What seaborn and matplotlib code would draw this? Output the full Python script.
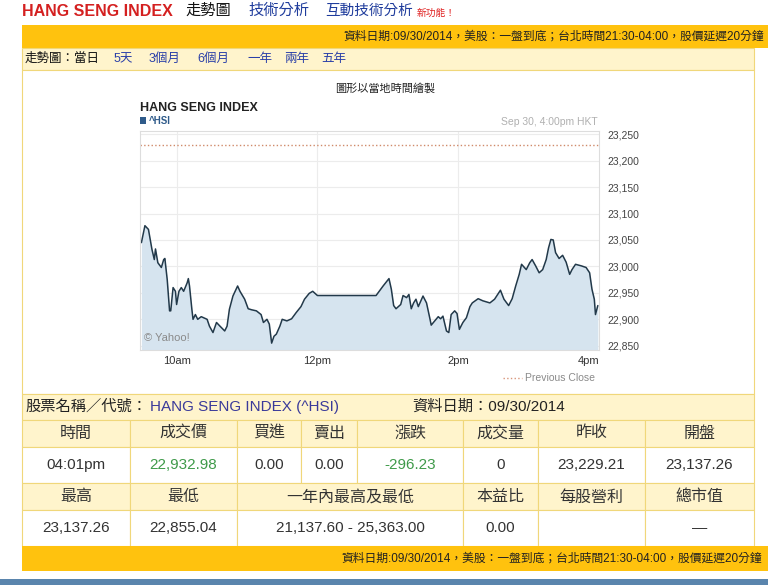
import matplotlib
matplotlib.use("Agg")
import numpy as np
import pandas as pd
import seaborn as sns
import matplotlib.pyplot as plt
from matplotlib.patches import Rectangle
from matplotlib.ticker import FuncFormatter

# ---- data ----
times = ["9:30", "9:33", "9:36", "9:39", "9:41", "9:42", "9:44", "9:47", "9:49", "9:50",
         "9:52", "9:54", "9:55", "9:57", "9:59", "10:00", "10:02", "10:04", "10:06", "10:09",
         "10:10", "10:11", "10:13", "10:14", "10:16", "10:18", "10:21", "10:26", "10:28", "10:31",
         "10:34", "10:37", "10:41", "10:43", "10:45", "10:48", "10:52", "10:54", "10:58", "11:01",
         "11:04", "11:08", "11:12", "11:14", "11:17", "11:19", "11:21", "11:23", "11:25", "11:28",
         "11:30", "11:34", "11:38", "11:42", "11:46", "11:49", "11:53", "11:56", "11:59", "12:00",
         "12:50", "12:56", "13:01", "13:03", "13:05", "13:07", "13:11", "13:13", "13:16", "13:18",
         "13:20", "13:22", "13:24", "13:26", "13:30", "13:33", "13:36", "13:37", "13:40", "13:43",
         "13:45", "13:47", "13:50", "13:52", "13:54", "13:57", "13:59", "14:01", "14:04", "14:07",
         "14:10", "14:12", "14:17", "14:21", "14:27", "14:31", "14:36", "14:39", "14:43", "14:46",
         "14:49", "14:52", "14:54", "14:58", "15:01", "15:03", "15:06", "15:09", "15:12", "15:15",
         "15:17", "15:19", "15:21", "15:23", "15:26", "15:29", "15:32", "15:35", "15:37", "15:40",
         "15:45", "15:49", "15:52", "15:54", "15:56", "15:57", "15:59"]
index_values = [23045, 23077, 23070, 23032, 23013, 23033, 23007, 22998, 23013, 23015,
                22975, 22916, 22916, 22960, 22953, 22928, 22953, 22960, 22953, 22969,
                22977, 22963, 22919, 22900, 22909, 22900, 22905, 22900, 22887, 22875,
                22894, 22887, 22878, 22887, 22919, 22944, 22963, 22953, 22938, 22920,
                22918, 22916, 22909, 22894, 22900, 22891, 22855, 22868, 22872, 22887,
                22900, 22897, 22901, 22913, 22924, 22938, 22949, 22953, 22947, 22945,
                22945, 22963, 22977, 22957, 22926, 22920, 22928, 22945, 22941, 22947,
                22920, 22931, 22938, 22924, 22944, 22931, 22900, 22889, 22897, 22905,
                22901, 22906, 22878, 22875, 22909, 22916, 22911, 22881, 22894, 22903,
                22924, 22931, 22939, 22935, 22931, 22938, 22955, 22938, 22926, 22939,
                22963, 22985, 23004, 22994, 23007, 23013, 23001, 22988, 22994, 23013,
                23035, 23051, 23050, 23026, 23015, 23021, 23008, 22985, 22994, 23004,
                23001, 22998, 22988, 22957, 22938, 22909, 22926]
prev_close = 23229.21
y_ticks = [22850, 22900, 22950, 23000, 23050, 23100, 23150, 23200, 23250]
x_ticks = [10, 12, 14, 16]
x_tick_labels = ["10am", "12pm", "2pm", "4pm"]

range_tabs = ["5天", "3個月", "6個月", "一年", "兩年", "五年"]
head_1 = ["時間", "成交價", "買進", "賣出", "漲跌", "成交量", "昨收", "開盤"]
row_1 = ["04:01pm", "22,932.98", "0.00", "0.00", "-296.23", "0", "23,229.21", "23,137.26"]
head_2 = ["最高", "最低", "一年內最高及最低", "本益比", "每股營利", "總市值"]
row_2 = ["23,137.26", "22,855.04", "21,137.60 - 25,363.00", "0.00", "", "—"]
notice = "資料日期:09/30/2014，美股：一盤到底；台北時間21:30-04:00，股價延遲20分鐘"

df = pd.DataFrame({"time": times, "value": index_values})
hm = df["time"].str.split(":", expand=True).astype(int)
df["hour"] = hm[0] + hm[1] / 60.0

sns.set_style("white")
plt.rcParams["font.family"] = ["Liberation Sans", "Noto Sans CJK TC", "DejaVu Sans"]

W, H = 768, 585
fig = plt.figure(figsize=(W / 100, H / 100), dpi=100)
bg = fig.add_axes([0, 0, 1, 1])
bg.set_xlim(0, W)
bg.set_ylim(H, 0)
bg.axis("off")

ORANGE = "#ffc20e"
LIGHT = "#fff4cc"
BORDER = "#f0d77a"


def box(x0, y0, x1, y1, fc, ec="none", lw=0.8):
    bg.add_patch(Rectangle((x0, y0), x1 - x0, y1 - y0, facecolor=fc, edgecolor=ec, linewidth=lw))


def txt(x, y, s, ha="left", size=11, color="#222222", **kw):
    bg.text(x, y, s, ha=ha, va="center", fontsize=size, color=color, **kw)


# top links
txt(22, 11, "HANG SENG INDEX", size=11.5, color="#d42020", weight="bold")
txt(185, 11, "走勢圖", size=11, color="#111111")
txt(248, 11, "技術分析", size=11, color="#1f3c9c")
txt(325, 11, "互動技術分析", size=10.5, color="#1f3c9c")
txt(417, 13, "新功能！", size=7, color="#e02020")

# orange header bar + range row
box(22, 25, W, 48, ORANGE)
txt(764, 37, notice, ha="right", size=8.5, color="#222222")
box(22, 48, 754, 70, LIGHT, BORDER)
txt(25, 59, "走勢圖：當日", size=9, color="#111111")
for x, s in zip([114, 149, 197, 247, 284, 321], range_tabs):
    txt(x, 59, s, size=9, color="#2a3fa8")

# chart box
box(22, 70, 754, 394, "white", BORDER)
txt(385, 88, "圖形以當地時間繪製", ha="center", size=8, color="#222222")
txt(140, 108, "HANG SENG INDEX", size=9, color="#222222", weight="bold")
box(140, 117, 146, 124, "#2f5b8a")
txt(149, 121, "^HSI", size=7, color="#2f5b8a", weight="bold")
txt(598, 122, "Sep 30, 4:00pm HKT", ha="right", size=7.5, color="#b0b0b0")
bg.plot([503, 522], [378, 378], ls=":", color="#d8957a", lw=1)
txt(525, 378, "Previous Close", size=7.5, color="#8a8a8a")

# quote table
box(22, 394, 754, 420, LIGHT, BORDER)
txt(25, 407, "股票名稱／代號：", size=11, color="#222222")
txt(150, 407, "HANG SENG INDEX (^HSI)", size=11, color="#3a3a9a")
txt(412, 407, "資料日期：09/30/2014", size=11, color="#222222")

edges_1 = [22, 130, 237, 301, 357, 463, 538, 645, 754]
edges_2 = [22, 130, 237, 463, 538, 645, 754]
green = "#3f9a4a"
for i in range(len(head_1)):
    x0, x1 = edges_1[i], edges_1[i + 1]
    box(x0, 420, x1, 447, LIGHT, BORDER)
    box(x0, 447, x1, 483, "white", BORDER)
    txt((x0 + x1) / 2, 433, head_1[i], ha="center", size=11.5, color="#333333")
    col = green if i in (1, 4) else "#333333"
    txt((x0 + x1) / 2, 465, row_1[i], ha="center", size=11, color=col)
for i in range(len(head_2)):
    x0, x1 = edges_2[i], edges_2[i + 1]
    box(x0, 483, x1, 510, LIGHT, BORDER)
    box(x0, 510, x1, 546, "white", BORDER)
    txt((x0 + x1) / 2, 497, head_2[i], ha="center", size=11.5, color="#333333")
    txt((x0 + x1) / 2, 528, row_2[i], ha="center", size=11, color="#333333")

box(22, 546, W, 571, ORANGE)
txt(762, 559, notice, ha="right", size=8.5, color="#222222")
box(0, 579, W, H, "#5a85ad")

# ---- intraday chart ----
ylo, yhi = 22842, 23256
ax = fig.add_axes([140 / W, 1 - 350 / H, 459 / W, 219 / H])
ax.set_facecolor("white")
ax.fill_between(df["hour"], df["value"], ylo, color="#d6e4ef", lw=0)
sns.lineplot(data=df, x="hour", y="value", ax=ax, color="#22394a", lw=1.1)
ax.axhline(prev_close, ls=":", color="#d08a6a", lw=1)
ax.set_xlim(9.48, 16.0)
ax.set_ylim(ylo, yhi)
for t in y_ticks:
    ax.axhline(t, color="#ececec", lw=0.8, zorder=0)
for t in x_ticks[:-1]:
    ax.axvline(t, color="#ececec", lw=0.8, zorder=0)
ax.set_xticks(x_ticks)
ax.set_xticklabels(x_tick_labels)
ax.get_xticklabels()[-1].set_horizontalalignment("right")
ax.set_yticks(y_ticks)
ax.yaxis.tick_right()
ax.yaxis.set_major_formatter(FuncFormatter(lambda v, p: f"{v:,.0f}"))
ax.tick_params(axis="y", length=0, pad=6, labelsize=7.5, labelcolor="#444444")
ax.tick_params(axis="x", length=0, pad=4, labelsize=8, labelcolor="#333333")
ax.set_xlabel("")
ax.set_ylabel("")
for s in ax.spines.values():
    s.set_color("#dddddd")
    s.set_linewidth(0.8)
ax.text(0.008, 0.04, "© Yahoo!", transform=ax.transAxes, fontsize=8, color="#8a8a8a")

fig.savefig("out.png", dpi=100)
